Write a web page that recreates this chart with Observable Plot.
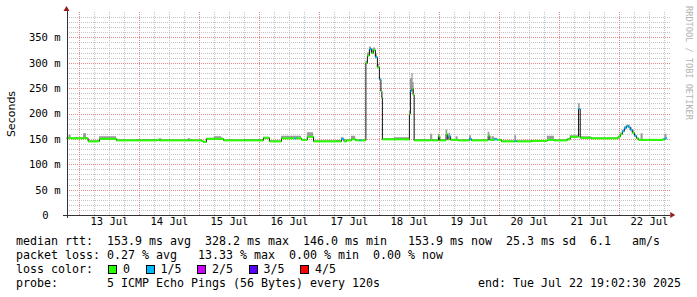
<!DOCTYPE html>
<html><head><meta charset="utf-8">
<script src="https://cdn.jsdelivr.net/npm/d3@7"></script>
<script src="https://cdn.jsdelivr.net/npm/@observablehq/plot@0.6"></script>
<style>
html,body{margin:0;padding:0;background:#fff;}
#wrap{position:relative;width:697px;height:297px;overflow:hidden;background:#fff;}
#chart svg{display:block;}
#info{font-family:"DejaVu Sans Mono",monospace;font-size:11.63px;line-height:14px;white-space:pre;color:#000;padding-left:16px;}
.sq{display:inline-block;width:7px;height:7px;border:1px solid #000;vertical-align:middle;margin-right:6px;}
.it{margin-right:15.5px;}
.rot{position:absolute;white-space:nowrap;line-height:1;transform-origin:center center;}
#ytitle{left:11px;top:113.5px;font-family:"DejaVu Sans",sans-serif;font-size:11px;color:#000;transform:translate(-50%,-50%) rotate(-90deg);}
#wm{left:688.5px;top:62.5px;font-family:"DejaVu Sans Mono",monospace;font-size:8.6px;color:#b4b4b4;transform:translate(-50%,-50%) rotate(90deg);}
</style></head><body><div id="wrap"><div id="chart"></div><div id="info"></div><div id="ytitle" class="rot"></div><div id="wm" class="rot"></div></div>
<script>
// ---- data ----
const startTime = "07-12 19:02:30";
const endTime = "07-22 19:02:30";
const times = ["07-12 19:02","07-12 19:50","07-12 20:40","07-13 01:40","07-13 02:50","07-13 03:30","07-13 08:00","07-13 14:50","07-13 23:00","07-14 07:00",
"07-14 08:00","07-14 09:00","07-14 19:30","07-14 20:30","07-15 00:50","07-15 01:30","07-15 02:50","07-15 06:00","07-15 09:00","07-15 09:40",
"07-15 18:00","07-16 01:40","07-16 04:00","07-16 08:50","07-16 14:00","07-16 14:50","07-16 16:50","07-16 19:10","07-16 21:40","07-17 06:50",
"07-17 08:50","07-17 09:50","07-17 10:50","07-17 12:50","07-17 14:30","07-17 16:00","07-17 16:40","07-17 18:36","07-17 19:12","07-17 20:00",
"07-17 20:48","07-17 21:36","07-17 22:24","07-17 23:12","07-18 00:00","07-18 00:36","07-18 01:00","07-18 01:12","07-18 06:00","07-18 12:00",
"07-18 12:24","07-18 13:00","07-18 13:30","07-18 13:54","07-18 20:30","07-18 21:20","07-18 23:36","07-19 00:10","07-19 02:40","07-19 03:20",
"07-19 03:50","07-19 04:30","07-19 06:40","07-19 07:30","07-19 12:00","07-19 12:50","07-19 19:30","07-19 20:10","07-19 21:00","07-19 22:00",
"07-19 23:10","07-20 00:50","07-20 06:10","07-20 06:50","07-20 12:50","07-20 19:10","07-20 22:00","07-21 03:10","07-21 04:20","07-21 07:40",
"07-21 08:20","07-21 12:50","07-21 23:30","07-22 00:20","07-22 01:10","07-22 02:00","07-22 02:50","07-22 03:40","07-22 04:20","07-22 05:10",
"07-22 06:00","07-22 06:50","07-22 07:40","07-22 08:40","07-22 09:30","07-22 17:30","07-22 18:10"];
const medianMs = [152,153,152,153,152,146,151,148,148,149,
148,148,148,148,147,145,151,151,151,148,
148,153,146,152,152,152,149,155,146,146,
151,146,148,150,148,148,148,300,315,328,
320,326,312,292,268,245,232,150,150,200,
246,250,238,148,149,148,156,148,160,150,
156,149,149,148,151,148,157,149,149,150,
149,146,147,146,147,149,148,150,155,210,
153,152,155,160,166,172,176,174,169,163,
157,152,149,149,149,150,152];
const smokeTopMs = [153,158,153,161,153,147,155,149,150,150,
151,149,151,149,148,146,152,155,152,149,
150,154,147,156,156,156,150,163,147,148,
153,147,149,156,149,149,149,304,320,332,
328,330,318,298,272,250,236,151,153,205,
270,280,262,150,160,150,160,150,168,152,
162,150,155,149,157,149,164,150,155,152,
150,147,157,147,148,156,149,151,157,220,
155,153,156,162,168,175,178,178,173,167,
160,153,150,161,150,151,160];
const lossLevel = [0,0,0,0,0,0,0,0,0,0,
0,0,0,0,0,0,0,0,0,0,
0,0,0,0,1,0,0,0,0,0,
1,0,0,0,0,1,0,0,0,1,
0,0,1,0,1,0,0,0,0,0,
1,0,0,0,0,0,0,0,0,0,
1,0,0,0,1,0,0,0,0,1,
0,0,1,0,0,0,0,0,0,1,
0,0,0,0,1,1,1,1,1,0,
1,0,0,0,0,0,1];
const lossLabels = ["0","1/5","2/5","3/5","4/5"];
const lossColors = ["#26ff00","#00b8ff","#d000ff","#5a00ff","#ff0000"];
const dayLabels = ["13 Jul","14 Jul","15 Jul","16 Jul","17 Jul","18 Jul","19 Jul","20 Jul","21 Jul","22 Jul"];
const yTickValues = [0,50,100,150,200,250,300,350];
const yAxisTitle = "Seconds";
const watermark = "RRDTOOL / TOBI OETIKER";
const statLines = [
  "median rtt:  153.9 ms avg  328.2 ms max  146.0 ms min   153.9 ms now  25.3 ms sd  6.1   am/s",
  "packet loss: 0.27 % avg   13.33 % max  0.00 % min  0.00 % now"
];
const legendPrefix = "loss color:  ";
const probeLine = "probe:       5 ICMP Echo Pings (56 Bytes) every 120s              end: Tue Jul 22 19:02:30 2025";

// ---- build ----
const parse = s => new Date(`2025-${s.replace(" ", "T")}${s.length > 11 ? "" : ":00"}Z`);
const t0 = parse(startTime), t1 = parse(endTime);
const tEdge = new Date(+t1 + 1.5 * 3600e3);
const rows = times.map((s, i) => ({t: parse(s), median: medianMs[i], top: smokeTopMs[i], loss: lossLevel[i]}));
rows.forEach((d, i) => d.t2 = i + 1 < rows.length ? rows[i + 1].t : t1);
const ext = rows.concat([{...rows[rows.length - 1], t: t1}]);

const hours6 = d3.utcHour.every(6).range(t0, tEdge).filter(d => d.getUTCHours() !== 0);
const days = d3.utcDay.range(t0, tEdge);
const minorY = d3.range(10, 400, 10).filter(v => v % 50 !== 0);
const majorY = d3.range(50, 400, 50);
const noons = dayLabels.map(l => new Date(`2025-07-${l.slice(0, 2)}T12:00:00Z`));

const mono = "DejaVu Sans Mono";
const chart = Plot.plot({
  width: 697, height: 234,
  marginLeft: 66.5, marginRight: 26.75, marginTop: 12, marginBottom: 19,
  x: {type: "utc", domain: [t0, tEdge], axis: null},
  y: {domain: [0, 400], axis: null},
  color: {type: "identity"},
  style: {background: "#fff", fontFamily: mono, fontSize: "10.5px", overflow: "visible"},
  marks: [
    Plot.ruleX(hours6, {x: d => d, stroke: "#c4c4c4", strokeDasharray: "1,1", shapeRendering: "crispEdges"}),
    Plot.ruleY(minorY, {y: d => d, stroke: "#c4c4c4", strokeDasharray: "1,1", shapeRendering: "crispEdges"}),
    Plot.ruleX(days, {x: d => d, stroke: "#e88a8a", strokeDasharray: "1,1", shapeRendering: "crispEdges"}),
    Plot.ruleY(majorY, {y: d => d, stroke: "#e88a8a", strokeDasharray: "1,1", shapeRendering: "crispEdges"}),
    Plot.areaY(ext, {x: "t", y1: "median", y2: "top", curve: "step-after", fill: "#9a9a9a"}),
    Plot.line(ext, {x: "t", y: "median", curve: "step-after", stroke: "#111", strokeWidth: 1}),
    Plot.link(rows, {x1: "t", x2: "t2", y1: "median", y2: "median", stroke: d => lossColors[d.loss], strokeWidth: 2}),
    Plot.ruleX([t0], {x: d => d, stroke: "#333", insetTop: -3, insetBottom: -3, shapeRendering: "crispEdges"}),
    Plot.ruleY([0], {y: d => d, stroke: "#333", insetLeft: -4, shapeRendering: "crispEdges"}),
    Plot.text(yTickValues.filter(v => v > 0), {y: d => d, text: d => `${d} m`, frameAnchor: "left", textAnchor: "end", dx: -6.5, fill: "#000"}),
    Plot.text([0], {y: d => d, text: d => `${d}`, frameAnchor: "left", textAnchor: "end", dx: -18.5, fill: "#000"}),
    Plot.text(noons, {x: d => d, text: (d, i) => dayLabels[i], frameAnchor: "bottom", dy: 9.5, fill: "#000"})
  ]
});
document.getElementById("chart").appendChild(chart);

// axis arrows placed through the scales
const sx = chart.scale("x"), sy = chart.scale("y");
const svg = d3.select(chart);
const ax = sx.apply(t0), ay = sy.apply(400);
svg.append("path").attr("d", `M${ax - 3},${ay - 1}L${ax},${ay - 6}L${ax + 3},${ay - 1}Z`).attr("fill", "#9a1a1a");
const bx = sx.apply(tEdge), by = sy.apply(0);
svg.append("path").attr("d", `M${bx},${by - 3}L${bx + 5},${by}L${bx},${by + 3}Z`).attr("fill", "#9a1a1a");

// rotated labels
document.getElementById("ytitle").textContent = yAxisTitle;
document.getElementById("wm").textContent = watermark;

// text block below
const info = document.getElementById("info");
statLines.forEach(s => { const d = document.createElement("div"); d.textContent = s; info.appendChild(d); });
const leg = document.createElement("div");
leg.appendChild(document.createTextNode(legendPrefix));
lossLabels.forEach((l, i) => {
  const sq = document.createElement("span"); sq.className = "sq"; sq.style.background = lossColors[i];
  if (i === 0) sq.style.marginLeft = "1px";
  const tx = document.createElement("span"); tx.className = "it"; tx.textContent = l;
  leg.appendChild(sq); leg.appendChild(tx);
});
info.appendChild(leg);
const pl = document.createElement("div"); pl.textContent = probeLine; info.appendChild(pl);
</script>
</body></html>
